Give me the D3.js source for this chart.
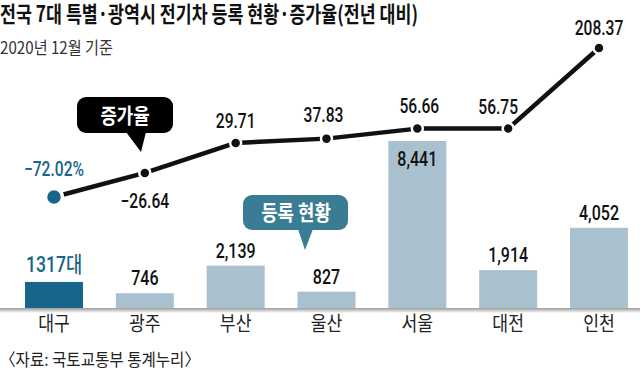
<!DOCTYPE html>
<html>
<head>
<meta charset="utf-8">
<script src="https://cdn.jsdelivr.net/npm/d3@7"></script>
<style>
  html, body { margin: 0; padding: 0; background: #fff; }
  svg { display: block; }
</style>
</head>
<body>
<svg id="chart" width="640" height="371"></svg>
<script>
// ---- data ----
const categories = ["대구", "광주", "부산", "울산", "서울", "대전", "인천"];
const registrations = [1317, 746, 2139, 827, 8441, 1914, 4052];
const growthRates = [-72.02, -26.64, 29.71, 37.83, 56.66, 56.75, 208.37];
const growthLabels = ["−72.02%", "−26.64", "29.71", "37.83", "56.66", "56.75", "208.37"];
const title = "전국 7대 특별·광역시 전기차 등록 현황·증가율(전년 대비)";
const subtitle = "2020년 12월 기준";
const source = "〈자료: 국토교통부 통계누리〉";
const highlightIndex = 0;

// ---- style ----
const DARK = "#17668a";
const LIGHT = "#a9c0cf";
const TEAL = "#3a7c94";
const KR = "'Noto Sans CJK KR', 'Noto Sans', sans-serif";
const NUM = "Roboto, 'Liberation Sans', sans-serif";
const SX = 0.8;

const svg = d3.select("#chart");

const x = d3.scalePoint().domain(categories).range([54, 599]);
const barW = 58;
const yBar = d3.scaleLinear().domain([0, 8441]).range([308, 141]);
const yLine = d3.scaleLinear().domain([-72.02, 208.37]).range([197, 48]);

function cText(g, px, py, txt, size, opts = {}) {
  return g.append("text")
    .attr("transform", `translate(${px},${py}) scale(${opts.sx ?? SX},1)`)
    .attr("text-anchor", opts.anchor ?? "middle")
    .attr("font-family", opts.family ?? NUM)
    .attr("font-size", size)
    .attr("font-weight", opts.weight ?? 500)
    .attr("fill", opts.fill ?? "#111")
    .text(txt);
}

// title & subtitle
svg.append("text").attr("x", 0).attr("y", 22)
  .attr("font-family", KR).attr("font-weight", 700).attr("font-size", 22)
  .attr("fill", "#111")
  .attr("textLength", 418).attr("lengthAdjust", "spacingAndGlyphs")
  .text(title);
svg.append("text").attr("x", 0).attr("y", 54)
  .attr("font-family", KR).attr("font-weight", 400).attr("font-size", 17)
  .attr("fill", "#333")
  .attr("textLength", 113).attr("lengthAdjust", "spacingAndGlyphs")
  .text(subtitle);

// axis band
const defs = svg.append("defs");
const grad = defs.append("linearGradient").attr("id", "band")
  .attr("x1", 0).attr("y1", 0).attr("x2", 0).attr("y2", 1);
grad.append("stop").attr("offset", "0%").attr("stop-color", "#9a9a9a");
grad.append("stop").attr("offset", "100%").attr("stop-color", "#ffffff");
svg.append("rect").attr("x", 0).attr("y", yBar(0)).attr("width", 640).attr("height", 5)
  .attr("fill", "url(#band)");

// bars
const bars = svg.append("g");
bars.selectAll("rect").data(registrations).join("rect")
  .attr("x", (d, i) => x(categories[i]) - barW / 2)
  .attr("y", d => yBar(d))
  .attr("width", barW)
  .attr("height", d => yBar(0) - yBar(d))
  .attr("fill", (d, i) => i === highlightIndex ? DARK : LIGHT);

const fmt = d3.format(",");
const maxReg = d3.max(registrations);
registrations.forEach((v, i) => {
  if (i === highlightIndex) {
    cText(svg, x(categories[i]), yBar(v) - 10, v + "대", 22,
      { fill: DARK, weight: 500, family: "Roboto, 'Noto Sans CJK KR', sans-serif" });
  } else if (v === maxReg) {
    cText(svg, x(categories[i]), yBar(v) + 25, fmt(v), 20);
  } else {
    cText(svg, x(categories[i]), yBar(v) - 8, fmt(v), 20);
  }
});

// category labels
categories.forEach(c => {
  cText(svg, x(c), 331, c, 20, { family: KR, sx: 0.86, fill: "#222", weight: 400 });
});

// source
svg.append("text").attr("x", 0).attr("y", 366)
  .attr("font-family", KR).attr("font-size", 17).attr("fill", "#222")
  .attr("textLength", 200).attr("lengthAdjust", "spacingAndGlyphs")
  .text(source);

// line
const pts = growthRates.map((v, i) => [x(categories[i]), yLine(v)]);
svg.append("path").datum(pts)
  .attr("d", d3.line())
  .attr("fill", "none").attr("stroke", "#111").attr("stroke-width", 4.5)
  .attr("stroke-linejoin", "round");

svg.append("g").selectAll("circle").data(pts).join("circle")
  .attr("cx", d => d[0]).attr("cy", d => d[1])
  .attr("r", (d, i) => i === highlightIndex ? 8.5 : 5.5)
  .attr("fill", (d, i) => i === highlightIndex ? DARK : "#111")
  .attr("stroke", "#fff").attr("stroke-width", (d, i) => i === highlightIndex ? 3.5 : 2.5);

// line labels
const labelDy = [-21, 35, -15, -17, -16, -15, -13];
const labelDx = [0, 0, 0, -3, 2, -10, 0];
growthLabels.forEach((t, i) => {
  cText(svg, pts[i][0] + labelDx[i], pts[i][1] + labelDy[i], t, 20,
    { fill: i === highlightIndex ? DARK : "#111", sx: 0.78 });
});

// callouts
function callout(bx, by, bw, bh, tail, fill, label, tx, ty) {
  const g = svg.append("g");
  g.append("rect").attr("x", bx).attr("y", by).attr("width", bw).attr("height", bh)
    .attr("rx", 9).attr("fill", fill);
  g.append("path").attr("d", d3.line()(tail) + "Z").attr("fill", fill);
  cText(g, tx, ty, label, 21, { family: KR, weight: 700, fill: "#fff", sx: 0.85 });
}
callout(77, 97, 96, 36, [[126, 132], [141, 152], [146, 132]], "#000", "증가율", 125, 123);
callout(243, 195, 105, 35, [[298, 229], [305, 250], [313, 229]], TEAL, "등록 현황", 296, 220);
</script>
</body>
</html>
